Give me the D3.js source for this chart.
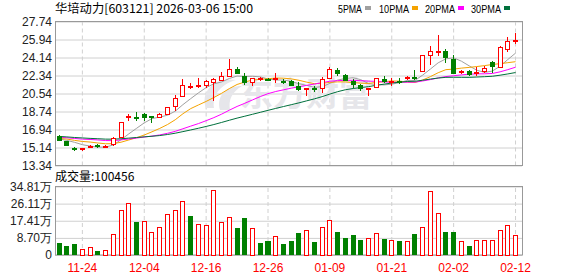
<!DOCTYPE html>
<html>
<head>
<meta charset="utf-8">
<script src="https://cdn.jsdelivr.net/npm/d3@7/dist/d3.min.js"></script>
<style>
  body { margin: 0; background: #fff; }
  svg { display: block; }
  text { font-family: "Liberation Sans", Arial, sans-serif; }
</style>
</head>
<body>
<svg id="chart" width="578" height="276"></svg>
<script>
// ---- data ----
const dates = ["11-19","11-20","11-21","11-24","11-25","11-26","11-27","11-28","12-01","12-02",
  "12-03","12-04","12-05","12-08","12-09","12-10","12-11","12-12","12-15","12-16",
  "12-17","12-18","12-19","12-22","12-23","12-24","12-25","12-26","12-29","12-30",
  "12-31","01-05","01-06","01-07","01-08","01-09","01-12","01-13","01-14","01-15",
  "01-16","01-19","01-20","01-21","01-22","01-23","01-26","01-27","01-28","01-29",
  "01-30","02-02","02-03","02-04","02-05","02-06","02-09","02-10","02-11","02-12"];
const open = [16.33,15.77,15.05,14.98,15.08,15.30,15.08,15.41,16.16,18.15,
  18.08,18.48,18.25,18.15,18.44,19.24,20.23,21.17,21.27,21.38,
  21.67,21.87,22.27,23.03,22.27,21.61,21.93,21.95,21.95,21.84,
  21.78,21.28,21.00,21.05,21.02,22.01,22.93,22.40,21.78,21.35,
  20.94,21.10,22.04,21.70,21.76,22.05,22.10,22.70,24.32,24.59,
  24.82,23.99,22.62,22.77,22.58,22.74,23.73,23.17,24.98,25.74];
const high = [16.38,15.80,15.24,15.11,15.35,15.50,15.35,16.23,17.70,18.48,
  18.65,18.64,18.32,18.62,19.22,20.36,22.01,21.60,22.11,21.90,
  22.05,22.70,24.02,23.15,22.60,22.10,22.17,22.05,22.60,21.95,
  21.92,21.70,21.10,21.28,22.20,23.20,23.10,22.45,22.00,21.48,
  21.00,22.10,22.28,22.10,22.08,22.25,22.93,24.35,25.25,26.40,
  25.00,24.42,22.92,22.87,23.20,23.25,23.76,25.25,26.17,26.63];
const low = [15.75,15.30,14.78,14.78,15.05,15.08,15.05,15.27,16.12,17.75,
  17.82,17.82,17.55,18.10,18.40,18.81,20.20,20.97,21.12,21.10,
  19.80,21.85,22.25,22.45,21.35,21.28,21.80,21.82,21.60,21.50,
  21.25,20.78,20.33,20.70,20.60,22.00,22.33,21.80,21.10,20.78,
  20.33,21.05,21.62,21.30,21.45,21.85,21.85,22.68,23.43,24.32,
  23.60,22.50,22.45,22.28,22.25,22.62,22.62,23.10,24.65,25.45];
const close = [15.77,15.34,15.00,15.02,15.30,15.25,15.31,16.07,17.65,18.22,
  18.02,18.06,18.20,18.41,19.14,20.03,21.35,21.19,21.29,21.78,
  21.94,22.27,22.93,22.50,21.61,22.00,21.97,21.90,21.98,21.60,
  21.28,20.85,21.05,21.00,21.94,22.93,22.50,21.84,21.38,20.95,
  20.98,22.00,21.68,21.74,21.72,22.08,22.05,24.32,24.78,24.82,
  24.06,22.54,22.67,22.44,22.60,23.00,23.20,25.11,25.78,25.80];
// volume, in 万 shares
const volume = [6.3,4.76,5.78,2.9,3.57,2.2,2.04,10.2,22.4,26.0,
  17.0,16.8,11.2,13.8,20.4,22.4,27.0,20.0,15.3,14.8,
  32.6,16.3,18.9,13.9,18.9,13.25,6.3,7.1,9.2,5.8,
  7.1,11.4,12.2,6.8,13.8,17.3,11.9,8.8,10.4,7.8,
  8.15,10.7,8.3,7.6,7.3,7.1,10.9,13.8,32.1,20.9,
  11.9,11.9,7.1,4.76,7.6,7.6,7.6,12.7,14.8,10.0456];
// closes of the 29 sessions before 11-19 (only feed the moving averages)
const prevCloses = [16.9,16.7,16.4,16.6,16.3,16.5,16.2,16.4,16.3,16.2,
  16.1,16.4,16.3,16.0,16.2,16.5,16.3,16.1,16.4,16.2,
  16.0,16.3,16.1,15.9,16.2,16.1,15.95,16.2,15.98];

const priceTicks = [13.34,15.14,16.94,18.74,20.54,22.34,24.14,25.94,27.74];
const volTicks = [0,8.70,17.41,26.11,34.81];
const volTickLabels = ["0","8.70万","17.41万","26.11万","34.81万"];
const dateTicks = ["11-24","12-04","12-16","12-26","01-09","01-21","02-02","02-12"];
const maPeriods = [5,10,20,30];
const maNames = ["5PMA","10PMA","20PMA","30PMA"];
const maColors = ["#a0a0a0","#f5a300","#ff00ff","#00703c"];

const title = "华培动力[603121] 2026-03-06 15:00";
const volLabel = "成交量:100456";

// ---- layout ----
const L = 55, R = 522, mainTop = 21.5, mainBot = 165.5, volTop = 186.5, volBot = 255;
const RED = "#ff0000", GREEN = "#008000", GRID = "#d0d0d0";

const svg = d3.select("#chart");
svg.append("rect").attr("width", 578).attr("height", 276).attr("fill", "#fff");

const x = d3.scaleBand().domain(dates).range([56.65, 518.05]).paddingInner(0.35);
const cx = d => x(d) + x.bandwidth() / 2;
const y = d3.scaleLinear().domain([13.34, 27.74]).range([mainBot, mainTop]);
const yv = d3.scaleLinear().domain([0, 34.81]).range([volBot, volTop]);

function styleGrid(g, dashed) {
  g.select(".domain").remove();
  g.selectAll(".tick line").attr("stroke", GRID).attr("stroke-dasharray", dashed ? "4,3" : null);
  g.selectAll("text").attr("fill", "#222").style("font-size", "12px");
}

// horizontal grid + price labels
svg.append("g").attr("transform", `translate(${L},0)`)
  .call(d3.axisLeft(y).tickValues(priceTicks).tickSize(-(R - L)).tickPadding(3).tickFormat(d3.format(".2f")))
  .call(g => styleGrid(g, false));
svg.append("g").attr("transform", `translate(${L},0)`)
  .call(d3.axisLeft(yv).tickValues(volTicks).tickSize(-(R - L)).tickPadding(3)
    .tickFormat((d, i) => volTickLabels[i]))
  .call(g => styleGrid(g, false));

// vertical dashed grid
svg.append("g").attr("transform", `translate(0,${mainBot})`)
  .call(d3.axisBottom(x).tickValues(dateTicks).tickSize(-(mainBot - mainTop)).tickFormat(""))
  .call(g => styleGrid(g, true));
svg.append("g").attr("transform", `translate(0,${volBot})`)
  .call(d3.axisBottom(x).tickValues(dateTicks).tickSize(-(volBot - volTop)).tickPadding(8))
  .call(g => styleGrid(g, true))
  .call(g => g.selectAll("text").attr("fill", RED));

// watermark
const wm = svg.append("g").attr("fill", "#e6e6ea");
wm.append("path")
  .attr("d", "M206,108 C200,92 214,76 236,80 C222,84 212,94 214,108 Z M220,110 C216,96 226,86 242,86 C232,92 228,100 230,110 Z")
  ;
wm.append("text").attr("x", 240).attr("y", 106)
  .style("font-family", "'Noto Sans CJK SC'").style("font-size", "33px").style("font-weight", "bold")
  .text("东方财富");

// panel borders
[[mainTop, mainBot], [volTop, volBot]].forEach(([t, b]) => {
  svg.append("rect").attr("x", L + 0.5).attr("y", t).attr("width", R - L).attr("height", b - t)
    .attr("fill", "none").attr("stroke", "#999");
});

// moving averages
const allCloses = prevCloses.concat(close);
const off = prevCloses.length;
maPeriods.forEach((n, k) => {
  const vals = close.map((_, i) => d3.mean(allCloses.slice(off + i - n + 1, off + i + 1)));
  svg.append("path").datum(vals)
    .attr("fill", "none").attr("stroke", maColors[k]).attr("stroke-width", 1)
    .attr("d", d3.line().x((d, i) => cx(dates[i])).y(d => y(d)));
});

// candles
const bw = x.bandwidth();
const candles = svg.append("g").attr("shape-rendering", "crispEdges")
  .selectAll("g").data(dates).join("g");
candles.each(function (d, i) {
  const g = d3.select(this);
  const c = cx(d), up = close[i] >= open[i], col = up ? RED : GREEN;
  g.append("line").attr("x1", c).attr("x2", c).attr("y1", y(high[i])).attr("y2", y(low[i]))
    .attr("stroke", col);
  const top = y(Math.max(open[i], close[i])), bot = y(Math.min(open[i], close[i]));
  const h = bot - top;
  if (h < 2.5) {
    g.append("rect").attr("x", c - bw / 2).attr("width", bw)
      .attr("y", (top + bot) / 2 - 1).attr("height", 2).attr("fill", col);
  } else if (up) {
    g.append("rect").attr("x", c - bw / 2 + 0.5).attr("width", bw - 1)
      .attr("y", top).attr("height", h).attr("fill", "#fff").attr("stroke", col);
  } else {
    g.append("rect").attr("x", c - bw / 2).attr("width", bw)
      .attr("y", top).attr("height", h).attr("fill", col);
  }
});

// volume bars (colour by close vs previous close)
svg.append("g").attr("shape-rendering", "crispEdges")
  .selectAll("rect").data(dates).join("rect")
  .each(function (d, i) {
    const up = close[i] >= allCloses[off + i - 1];
    const r = d3.select(this).attr("y", yv(volume[i])).attr("height", volBot - yv(volume[i]));
    if (up) r.attr("x", cx(d) - bw / 2 + 0.5).attr("width", bw - 1).attr("fill", "#fff").attr("stroke", RED);
    else r.attr("x", cx(d) - bw / 2).attr("width", bw).attr("fill", GREEN);
  });

// title and legend
svg.append("text").attr("x", 55).attr("y", 13).style("font-size", "12px")
  .style("font-family", "'Noto Sans CJK SC', sans-serif").attr("fill", "#000")
  .attr("textLength", 198).attr("lengthAdjust", "spacingAndGlyphs").text(title);
const legX = [338, 379, 425, 471];
const leg = svg.append("g").selectAll("g").data(maNames).join("g")
  .attr("transform", (d, i) => `translate(${legX[i]},0)`);
leg.append("text").attr("y", 12.5).style("font-size", "11px").attr("fill", "#000")
  .attr("textLength", (d) => d.length * 6).attr("lengthAdjust", "spacingAndGlyphs").text(d => d);
leg.append("rect").attr("x", d => d.length * 6 + 3).attr("y", 6).attr("width", 6).attr("height", 4)
  .attr("fill", (d, i) => maColors[i]);

svg.append("text").attr("x", 55).attr("y", 181).style("font-size", "12px")
  .style("font-family", "'Noto Sans CJK SC', sans-serif").attr("fill", "#000")
  .text(volLabel);
</script>
</body>
</html>
